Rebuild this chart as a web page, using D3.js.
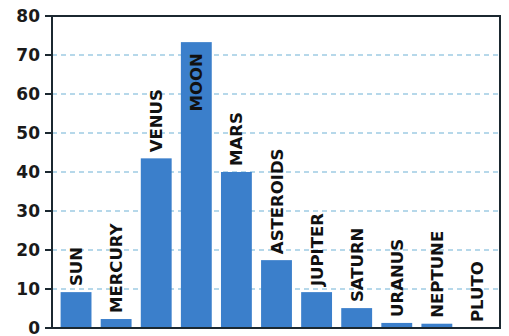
<!DOCTYPE html>
<html lang="en">
<head>
    <meta charset="UTF-8">
    <title>Bodies</title>
    <script src="https://d3js.org/d3.v7.min.js"></script>
    <style>
        body { margin: 0; background: #fff; }
        .tick-label { font: bold 17px "DejaVu Sans", sans-serif; fill: #1a1a1a; }
        .bar-label { font: bold 16.5px "DejaVu Sans", sans-serif; fill: #111; }
    </style>
</head>
<body>
    <svg width="509" height="336"></svg>
    <script>
        const names = ["SUN", "MERCURY", "VENUS", "MOON", "MARS", "ASTEROIDS",
                       "JUPITER", "SATURN", "URANUS", "NEPTUNE", "PLUTO"];
        const values = [9.2, 2.3, 43.5, 73.3, 40, 17.4, 9.2, 5.1, 1.3, 1.1, 0];
        const yTicks = [0, 10, 20, 30, 40, 50, 60, 70, 80];

        const data = names.map((n, i) => ({name: n, value: values[i]}));

        const svg = d3.select("svg");
        const plotLeft = 52, plotRight = 500, plotTop = 16, plotBottom = 328;

        const x = d3.scaleBand()
            .domain(names)
            .range([56, 497])
            .paddingInner(0.23)
            .paddingOuter(0.115);
        const y = d3.scaleLinear()
            .domain([0, 80])
            .range([plotBottom, plotTop]);

        // dashed grid
        svg.append("g")
            .selectAll("line")
            .data(yTicks.filter(t => t > 0 && t < 80))
            .enter().append("line")
            .attr("x1", plotLeft)
            .attr("x2", plotRight)
            .attr("y1", d => y(d))
            .attr("y2", d => y(d))
            .attr("stroke", "#9fcbe3")
            .attr("stroke-width", 1.5)
            .attr("stroke-dasharray", "5,4");

        svg.selectAll(".bar")
            .data(data)
            .enter().append("rect")
            .attr("class", "bar")
            .attr("x", d => x(d.name))
            .attr("width", x.bandwidth())
            .attr("y", d => y(d.value))
            .attr("height", d => plotBottom - y(d.value))
            .attr("fill", "#3b7fcb");

        // frame
        svg.append("rect")
            .attr("x", plotLeft)
            .attr("y", plotTop)
            .attr("width", plotRight - plotLeft)
            .attr("height", plotBottom - plotTop)
            .attr("fill", "none")
            .attr("stroke", "#1b2830")
            .attr("stroke-width", 2);

        // y axis ticks + labels
        const yAxis = svg.append("g");
        yAxis.selectAll("line")
            .data(yTicks)
            .enter().append("line")
            .attr("x1", 45)
            .attr("x2", plotLeft)
            .attr("y1", d => y(d))
            .attr("y2", d => y(d))
            .attr("stroke", "#1b2830")
            .attr("stroke-width", 2);
        yAxis.selectAll("text")
            .data(yTicks)
            .enter().append("text")
            .attr("class", "tick-label")
            .attr("x", 40)
            .attr("y", d => y(d))
            .attr("dy", "0.36em")
            .attr("text-anchor", "end")
            .text(d => d);

        // rotated labels above bars (inside for tall ones)
        svg.selectAll(".bar-label")
            .data(data)
            .enter().append("text")
            .attr("class", "bar-label")
            .attr("transform", d => {
                const cx = x(d.name) + x.bandwidth() / 2 + 6;
                const inside = d.value > 65;
                const ly = inside ? y(d.value) + 11 : y(d.value) - 6;
                return `translate(${cx},${ly}) rotate(-90)`;
            })
            .attr("text-anchor", d => d.value > 65 ? "end" : "start")
            .text(d => d.name);
    </script>
</body>
</html>
